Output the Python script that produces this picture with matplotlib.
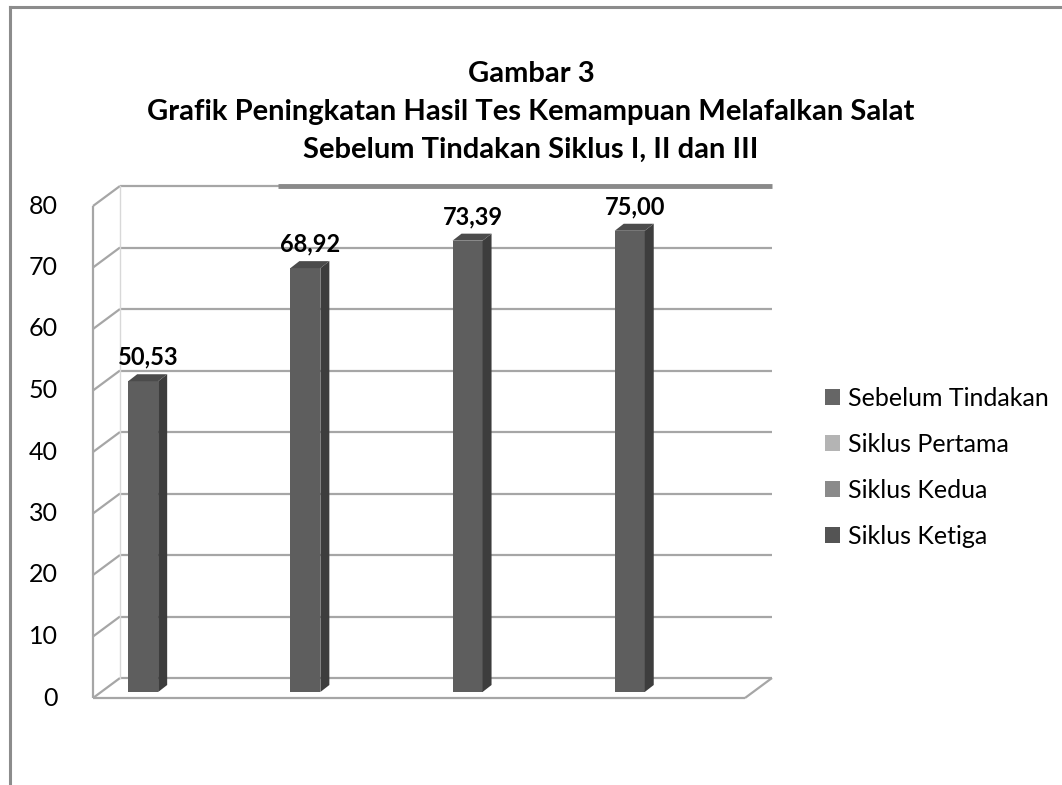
import matplotlib
matplotlib.use("Agg")
import matplotlib.pyplot as plt
from matplotlib.patches import Polygon, Patch
from matplotlib.lines import Line2D

# ---- data ----
series = ["Sebelum Tindakan", "Siklus Pertama", "Siklus Kedua", "Siklus Ketiga"]
values = [50.53, 68.92, 73.39, 75.00]
value_labels = ["50,53", "68,92", "73,39", "75,00"]
yticks = [0, 10, 20, 30, 40, 50, 60, 70, 80]
legend_colors = ["#666666", "#b4b4b4", "#8a8a8a", "#545454"]
title_lines = ["Gambar 3",
               "Grafik Peningkatan Hasil Tes Kemampuan Melafalkan Salat",
               "Sebelum Tindakan Siklus I, II dan III"]

plt.rcParams['font.family'] = ['Lato', 'DejaVu Sans']

W, H = 1062, 785
fig = plt.figure(figsize=(W / 100, H / 100), dpi=100)
fig.patch.set_facecolor("white")

# back wall axes
ax = fig.add_axes([120 / W, 1 - 678 / H, 652 / W, 492 / H])
XMIN, XMAX = -0.26, 3.76
ax.set_xlim(XMIN, XMAX)
ax.set_ylim(0, 80)
ax.axis("off")

px_x = 652 / (XMAX - XMIN)
px_y = 492 / 80.0
def dx(p):
    return p / px_x
def dy(p):
    return p / px_y

DEPX, DEPY = dx(27), dy(20)
grid_c = "#a6a6a6"
kw = dict(color=grid_c, lw=1.6, clip_on=False, solid_capstyle="butt")

# gridlines on back wall + side wall
for t in yticks:
    ax.plot([XMIN, XMAX], [t, t], **kw)
    ax.plot([XMIN, XMIN - DEPX], [t, t - DEPY], **kw)
# darker top edge segment
ax.plot([0.715, XMAX], [80, 80], color="#8a8a8a", lw=3.5, clip_on=False,
        solid_capstyle="butt")
# side wall edges
ax.plot([XMIN - DEPX, XMIN - DEPX], [-DEPY, 80 - DEPY], **kw)
ax.plot([XMIN, XMIN], [0, 80], color="#d8d8d8", lw=1.0, clip_on=False)
# floor
ax.plot([XMIN - DEPX, XMAX - DEPX], [-DEPY, -DEPY], **kw)
ax.plot([XMAX - DEPX, XMAX], [-DEPY, 0], **kw)

# y tick labels on the front plane
for t in yticks:
    ax.text(XMIN - DEPX - dx(35), t - DEPY, str(t), ha="right", va="center",
            fontsize=18, color="black", clip_on=False)

# bars (pseudo-3D)
pos = list(range(len(values)))
bw = dx(30)
shift_x, base = dx(19), -dy(14)
sdx, sdy = dx(9), dy(7)
front_x = [p - shift_x for p in pos]
ax.bar(front_x, values, width=bw, bottom=base, color="#5e5e5e",
       edgecolor="none", clip_on=False, zorder=3)
for fx, v, lab in zip(front_x, values, value_labels):
    xl, xr = fx - bw / 2, fx + bw / 2
    top = base + v
    ax.add_patch(Polygon([(xr, base), (xr, top), (xr + sdx, top + sdy),
                          (xr + sdx, base + sdy)], closed=True,
                         facecolor="#3d3d3d", edgecolor="none",
                         clip_on=False, zorder=3))
    ax.add_patch(Polygon([(xl, top), (xr, top), (xr + sdx, top + sdy),
                          (xl + sdx, top + sdy)], closed=True,
                         facecolor="#4b4b4b", edgecolor="none",
                         clip_on=False, zorder=3))
    ax.text(fx + dx(5), top + dy(24), lab, ha="center", va="center",
            fontsize=17, fontweight="bold", color="black", clip_on=False,
            zorder=4)

# legend
handles = [Patch(facecolor=c, edgecolor="none", label=s)
           for s, c in zip(series, legend_colors)]
fig.legend(handles=handles, loc="center left",
           bbox_to_anchor=(812 / W, 1 - 467 / H), frameon=False,
           fontsize=18, handlelength=0.6, handleheight=0.6,
           handletextpad=0.35, labelspacing=0.92, borderpad=0)

# title
for ty, line in zip([74, 112, 150], title_lines):
    fig.text(531 / W, 1 - ty / H, line, ha="center", va="center",
             fontsize=21, fontweight="bold", color="black")

# outer frame (top and left)
fig.add_artist(Line2D([10 / W, 1.0], [1 - 7 / H, 1 - 7 / H],
                      transform=fig.transFigure, color="#8c8c8c", lw=2.2))
fig.add_artist(Line2D([10 / W, 10 / W], [0, 1 - 7 / H],
                      transform=fig.transFigure, color="#8c8c8c", lw=2.2))

fig.savefig("out.png", dpi=100)
